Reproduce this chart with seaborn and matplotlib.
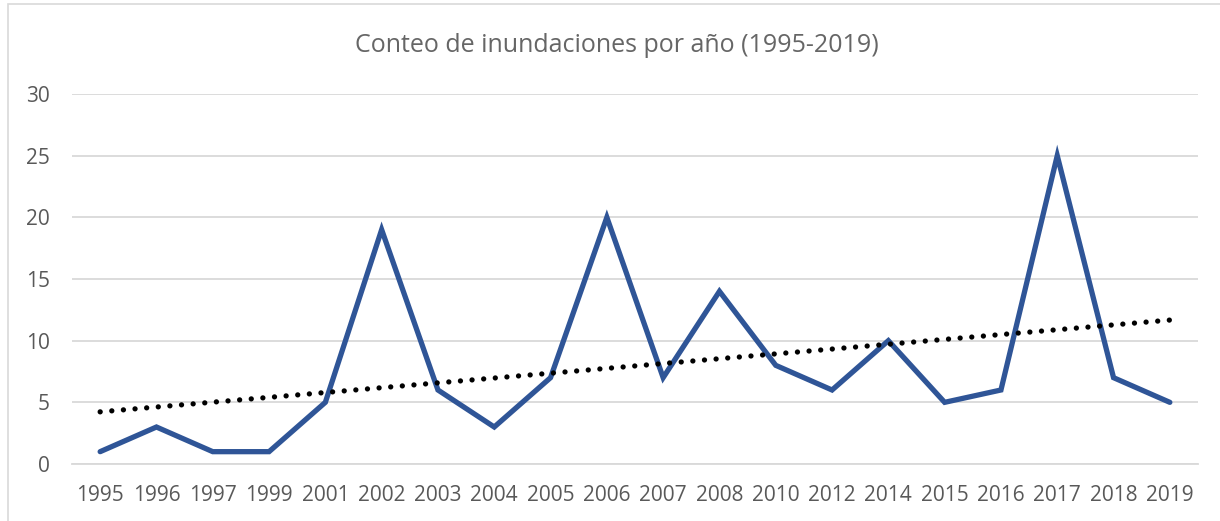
import matplotlib

matplotlib.use("Agg")

import matplotlib.pyplot as plt
import numpy as np
import pandas as pd
import seaborn as sns
from matplotlib.patches import Rectangle

# flood counts per year
YEARS = ["1995", "1996", "1997", "1999", "2001", "2002", "2003", "2004", "2005", "2006",
         "2007", "2008", "2010", "2012", "2014", "2015", "2016", "2017", "2018", "2019"]
FLOODS = [1, 3, 1, 1, 5, 19, 6, 3, 7, 20, 7, 14, 8, 6, 10, 5, 6, 25, 7, 5]
Y_TICKS = [0, 5, 10, 15, 20, 25, 30]

TITLE = "Conteo de inundaciones por año (1995-2019)"

sns.set_theme(style="white")
plt.rcParams["font.family"] = ["Open Sans", "DejaVu Sans"]

df = pd.DataFrame({"year": YEARS, "floods": FLOODS})
df["idx"] = np.arange(len(df))
# linear trendline on category index, same as a spreadsheet trendline
slope, intercept = np.polyfit(df["idx"], df["floods"], 1)
df["trend"] = intercept + slope * df["idx"]

fig = plt.figure(figsize=(12.2, 5.21), dpi=100)
ax = fig.add_axes([72 / 1220, 1 - 464 / 521, (1198 - 72) / 1220, (464 - 94) / 521])

sns.lineplot(data=df, x="idx", y="floods", ax=ax, color="#2F5597", lw=3.8,
             solid_joinstyle="miter", zorder=3)
ax.plot(df["idx"], df["trend"], color="black", lw=3.8, ls=(0, (0.01, 2.2)),
        dash_capstyle="round", zorder=4)

ax.set_xlim(-0.5, len(YEARS) - 0.5)
ax.set_ylim(0, 30)
ax.set_yticks(Y_TICKS)
ax.set_xticks(df["idx"])
ax.set_xticklabels(YEARS)
ax.grid(axis="y", color="#d9d9d9", lw=1.3)
ax.set_axisbelow(True)
for side in ["left", "right", "top"]:
    ax.spines[side].set_visible(False)
ax.spines["bottom"].set_color("#d9d9d9")
ax.spines["bottom"].set_linewidth(1.3)
ax.tick_params(axis="both", length=0, labelsize=15, colors="#595959")
ax.tick_params(axis="x", pad=15)
ax.tick_params(axis="y", pad=16)
ax.set_xlabel("")
ax.set_ylabel("")

fig.text(617 / 1220, 1 - 45 / 521, TITLE, ha="center", va="center",
         fontsize=18, color="#666666")

fig.patches.append(Rectangle((8 / 1220, -0.01), 1.0, 1 - 4 / 521 + 0.01,
                             transform=fig.transFigure, fill=False,
                             edgecolor="#d9d9d9", lw=1.2))

fig.savefig("out.png", dpi=100)
